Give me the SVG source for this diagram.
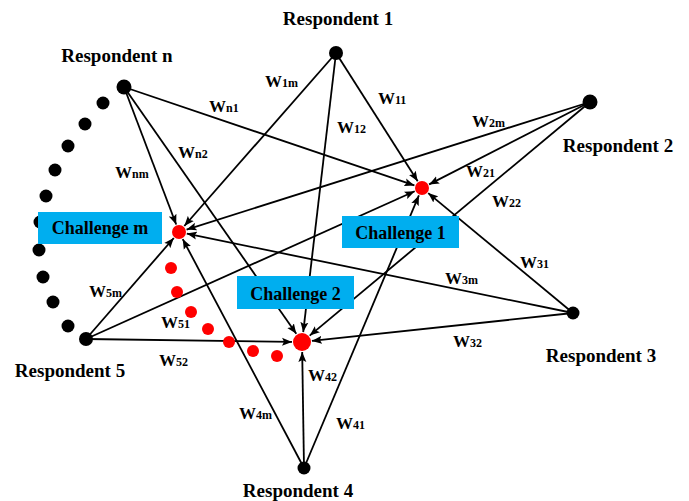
<svg xmlns="http://www.w3.org/2000/svg" width="689" height="501" viewBox="0 0 689 501">
  <style>
    .lbl { font-family: "Liberation Serif", "Times New Roman", serif; font-weight: bold; fill: #000; }
    .resp { font-size: 19px; text-anchor: middle; }
    .chal { font-size: 18px; text-anchor: middle; }
    .w { font-size: 17px; }
    .sub { font-size: 12px; }
    .edge { stroke: #000; stroke-width: 1.8; fill: none; marker-end: url(#arrow); }
    .box { fill: #00AEEF; }
    .person { fill: #000; }
    .target { fill: #FF0000; }
  </style>
  <defs>
    <marker id="arrow" markerUnits="userSpaceOnUse" markerWidth="11" markerHeight="9" refX="10" refY="4.5" orient="auto">
      <path d="M0,0.5 L10,4.5 L0,8.5 L2,4.5 z" fill="#000"/>
    </marker>
  </defs>
  <rect width="689" height="501" fill="#fff"/>

  <!-- weighted links from every respondent to every challenge -->
  <g id="connectors">
    <line class="edge" x1="336" y1="53" x2="417.7" y2="181.3"/>
    <line class="edge" x1="336" y1="53" x2="184.3" y2="226.0"/>
    <line class="edge" x1="336" y1="53" x2="303.2" y2="332.1"/>
    <line class="edge" x1="124" y1="87" x2="414.4" y2="185.4"/>
    <line class="edge" x1="124" y1="87" x2="176.2" y2="224.5"/>
    <line class="edge" x1="124" y1="87" x2="296.3" y2="333.8"/>
    <line class="edge" x1="590" y1="102" x2="429.1" y2="184.4"/>
    <line class="edge" x1="590" y1="102" x2="186.6" y2="229.6"/>
    <line class="edge" x1="590" y1="102" x2="309.7" y2="335.6"/>
    <line class="edge" x1="573" y1="313" x2="428.2" y2="193.1"/>
    <line class="edge" x1="573" y1="313" x2="186.8" y2="233.6"/>
    <line class="edge" x1="573" y1="313" x2="311.9" y2="340.9"/>
    <line class="edge" x1="304" y1="468" x2="418.9" y2="195.4"/>
    <line class="edge" x1="304" y1="468" x2="182.7" y2="239.1"/>
    <line class="edge" x1="304" y1="468" x2="302.2" y2="352"/>
    <line class="edge" x1="86" y1="339" x2="414.7" y2="191.3"/>
    <line class="edge" x1="86" y1="339" x2="173.8" y2="238.0"/>
    <line class="edge" x1="86" y1="339" x2="292" y2="341.9"/>
  </g>

  <!-- weight labels -->
  <g id="weights" class="lbl w">
    <text x="265" y="87">W<tspan class="sub">1m</tspan></text>
    <text x="378" y="104">W<tspan class="sub">11</tspan></text>
    <text x="337" y="133">W<tspan class="sub">12</tspan></text>
    <text x="209" y="112">W<tspan class="sub">n1</tspan></text>
    <text x="178" y="158">W<tspan class="sub">n2</tspan></text>
    <text x="115" y="178">W<tspan class="sub">nm</tspan></text>
    <text x="472" y="127">W<tspan class="sub">2m</tspan></text>
    <text x="466" y="177">W<tspan class="sub">21</tspan></text>
    <text x="492" y="207">W<tspan class="sub">22</tspan></text>
    <text x="520" y="268">W<tspan class="sub">31</tspan></text>
    <text x="445" y="284">W<tspan class="sub">3m</tspan></text>
    <text x="453" y="347">W<tspan class="sub">32</tspan></text>
    <text x="336" y="429">W<tspan class="sub">41</tspan></text>
    <text x="308" y="381">W<tspan class="sub">42</tspan></text>
    <text x="239" y="419">W<tspan class="sub">4m</tspan></text>
    <text x="89" y="297">W<tspan class="sub">5m</tspan></text>
    <text x="161" y="328">W<tspan class="sub">51</tspan></text>
    <text x="159" y="366">W<tspan class="sub">52</tspan></text>
  </g>

  <!-- ellipsis of further respondents between n and 5 -->
  <g id="more-respondents" class="person">
    <circle cx="103" cy="103" r="6.5"/>
    <circle cx="85" cy="124" r="6.5"/>
    <circle cx="68" cy="146" r="6.5"/>
    <circle cx="55" cy="170" r="6.5"/>
    <circle cx="46" cy="196" r="6.5"/>
    <circle cx="40" cy="222" r="6.5"/>
    <circle cx="39" cy="250" r="6.5"/>
    <circle cx="43" cy="277" r="6.5"/>
    <circle cx="53" cy="302" r="6.5"/>
    <circle cx="68" cy="326" r="6.5"/>
  </g>

  <!-- ellipsis of further challenges between m and 2 -->
  <g id="more-challenges" class="target">
    <circle cx="171" cy="268" r="6"/>
    <circle cx="177" cy="292" r="6"/>
    <circle cx="191" cy="312" r="6"/>
    <circle cx="208" cy="329" r="6"/>
    <circle cx="229" cy="342" r="6"/>
    <circle cx="253" cy="351" r="6"/>
    <circle cx="277" cy="356" r="6"/>
  </g>

  <!-- respondents -->
  <g id="respondent-1">
    <circle class="person" cx="336" cy="53" r="7"/>
    <text class="lbl resp" x="338" y="25">Respondent 1</text>
  </g>
  <g id="respondent-n">
    <circle class="person" cx="124" cy="87" r="7.5"/>
    <text class="lbl resp" x="117" y="62">Respondent n</text>
  </g>
  <g id="respondent-2">
    <circle class="person" cx="590" cy="102" r="7.5"/>
    <text class="lbl resp" x="618" y="152">Respondent 2</text>
  </g>
  <g id="respondent-3">
    <circle class="person" cx="573" cy="313" r="6.5"/>
    <text class="lbl resp" x="601" y="362">Respondent 3</text>
  </g>
  <g id="respondent-4">
    <circle class="person" cx="304" cy="468" r="6.5"/>
    <text class="lbl resp" x="298" y="497">Respondent 4</text>
  </g>
  <g id="respondent-5">
    <circle class="person" cx="86" cy="339" r="7"/>
    <text class="lbl resp" x="70" y="377">Respondent 5</text>
  </g>

  <!-- challenges -->
  <g id="challenge-1">
    <rect class="box" x="342" y="216" width="117" height="32"/>
    <text class="lbl chal" x="400.5" y="239">Challenge 1</text>
    <circle class="target" cx="422" cy="188" r="7"/>
  </g>
  <g id="challenge-2">
    <rect class="box" x="237" y="276" width="117" height="33"/>
    <text class="lbl chal" x="295.5" y="300">Challenge 2</text>
    <circle class="target" cx="302" cy="342" r="9"/>
  </g>
  <g id="challenge-m">
    <rect class="box" x="38" y="212" width="124" height="32"/>
    <text class="lbl chal" x="100" y="234">Challenge m</text>
    <circle class="target" cx="179" cy="232" r="7"/>
  </g>
</svg>
